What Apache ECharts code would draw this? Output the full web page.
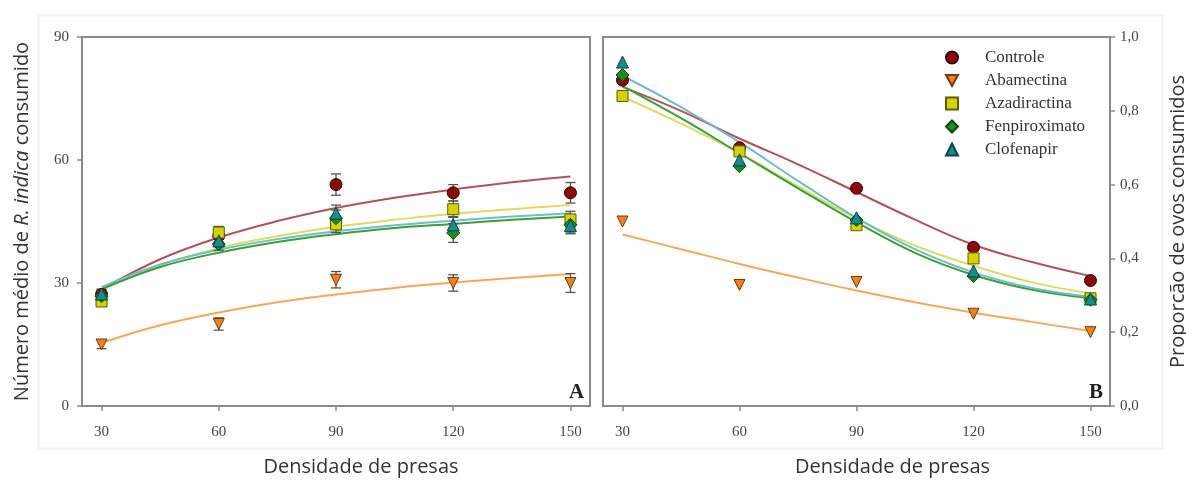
<!DOCTYPE html>
<html>
<head>
<meta charset="utf-8">
<script src="https://cdn.jsdelivr.net/npm/echarts@6/dist/echarts.min.js"></script>
<style>
html,body{margin:0;padding:0;background:#fff;}
#chart{width:1186px;height:481px;}
</style>
</head>
<body>
<div id="chart"></div>
<script>
// ---------- data ----------
const names = ['Controle', 'Abamectina', 'Azadiractina', 'Fenpiroximato', 'Clofenapir'];
const xDens = [30, 60, 90, 120, 150];
const xTicks = [30, 60, 90, 120, 150];
const curveX = [30, 45, 60, 75, 90, 105, 120, 135, 150];

// Panel A: mean number consumed (points) and standard errors
const aControle      = [27.2, 41.5, 54.0, 52.0, 52.0];
const aAbamectina    = [15.0, 20.0, 30.8, 30.0, 30.0];
const aAzadiractina  = [25.5, 42.3, 44.3, 48.0, 45.5];
const aFenpiroximato = [26.8, 39.5, 45.8, 42.2, 44.2];
const aClofenapir    = [27.3, 40.3, 47.0, 44.2, 44.0];

const eControle      = [1.2, 1.5, 2.6, 2.0, 2.5];
const eAbamectina    = [1.0, 1.5, 2.0, 2.0, 2.3];
const eAzadiractina  = [1.2, 1.5, 2.0, 2.0, 2.0];
const eFenpiroximato = [1.2, 1.5, 2.0, 2.3, 2.0];
const eClofenapir    = [1.2, 1.5, 2.0, 2.0, 2.0];

// Panel A: fitted curves read at curveX
const aCurveControle      = [28.5, 35.8, 41.1, 45.1, 48.3, 50.8, 52.8, 54.6, 56.0];
const aCurveAbamectina    = [15.4, 19.7, 22.8, 25.3, 27.2, 28.8, 30.1, 31.2, 32.2];
const aCurveAzadiractina  = [28.3, 34.3, 38.5, 41.4, 43.7, 45.4, 46.9, 48.0, 49.0];
const aCurveFenpiroximato = [28.5, 33.9, 37.4, 40.0, 41.9, 43.4, 44.4, 45.4, 46.2];
const aCurveClofenapir    = [29.0, 34.5, 38.1, 40.7, 42.6, 44.1, 45.2, 46.2, 47.0];

// Panel B: proportion of eggs consumed
const bControle      = [0.883, 0.700, 0.590, 0.430, 0.340];
const bAbamectina    = [0.500, 0.328, 0.336, 0.250, 0.200];
const bAzadiractina  = [0.840, 0.690, 0.490, 0.400, 0.292];
const bFenpiroximato = [0.897, 0.650, 0.504, 0.352, 0.288];
const bClofenapir    = [0.932, 0.667, 0.510, 0.366, 0.290];

const bCurveControle      = [0.865, 0.800, 0.725, 0.655, 0.580, 0.505, 0.437, 0.390, 0.352];
const bCurveAbamectina    = [0.465, 0.425, 0.385, 0.348, 0.313, 0.281, 0.253, 0.228, 0.203];
const bCurveAzadiractina  = [0.838, 0.765, 0.685, 0.595, 0.508, 0.435, 0.380, 0.335, 0.305];
const bCurveFenpiroximato = [0.867, 0.780, 0.685, 0.590, 0.498, 0.415, 0.355, 0.315, 0.292];
const bCurveClofenapir    = [0.895, 0.810, 0.715, 0.610, 0.510, 0.425, 0.362, 0.320, 0.296];

// ---------- styles ----------
const markerFill   = ['#8b0a0a', '#f08020', '#d6d200', '#1e8c1e', '#1a8c8c'];
const markerBorder = ['#3a0000', '#6e3a10', '#5e5c00', '#0a440a', '#0a4444'];
const lineColor    = ['#b0525c', '#f5a75a', '#dcdc62', '#3a9e3a', '#70bccc'];
const symbols = ['circle', 'path://M0,0 L10,0 L5,9 Z', 'rect', 'diamond', 'triangle'];
const symSizes = [12, 11, 11, 13, 12];

const pointsA = [aControle, aAbamectina, aAzadiractina, aFenpiroximato, aClofenapir];
const errA = [eControle, eAbamectina, eAzadiractina, eFenpiroximato, eClofenapir];
const curvesA = [aCurveControle, aCurveAbamectina, aCurveAzadiractina, aCurveFenpiroximato, aCurveClofenapir];
const pointsB = [bControle, bAbamectina, bAzadiractina, bFenpiroximato, bClofenapir];
const curvesB = [bCurveControle, bCurveAbamectina, bCurveAzadiractina, bCurveFenpiroximato, bCurveClofenapir];

const frameColor = '#8a8a8a';
const tickFont = {fontFamily: 'Liberation Serif', fontSize: 15, color: '#444'};
const titleFont = {fontFamily: 'Open Sans', fontSize: 20, color: '#333'};

function zip(xs, ys) { return xs.map((x, i) => [x, ys[i]]); }

const series = [];
[0, 1].forEach(function (g) {
  const pts = g === 0 ? pointsA : pointsB;
  const crv = g === 0 ? curvesA : curvesB;
  names.forEach(function (n, i) {
    series.push({
      name: n + ' ajuste' + g, type: 'line', xAxisIndex: g, yAxisIndex: g,
      data: zip(curveX, crv[i]), smooth: 0.4, showSymbol: false, symbol: 'none',
      lineStyle: {color: lineColor[i], width: 2}, z: 2, silent: true
    });
  });
  if (g === 0) {
    names.forEach(function (n, i) {
      series.push({
        name: n + ' erro', type: 'custom', xAxisIndex: 0, yAxisIndex: 0, z: 3, silent: true,
        data: xDens.map((x, k) => [x, pts[i][k] - errA[i][k], pts[i][k] + errA[i][k]]),
        renderItem: function (params, api) {
          const x = api.value(0);
          const p1 = api.coord([x, api.value(1)]);
          const p2 = api.coord([x, api.value(2)]);
          const w = 5;
          const st = {stroke: '#555', lineWidth: 1.3};
          return {type: 'group', children: [
            {type: 'line', shape: {x1: p1[0], y1: p1[1], x2: p2[0], y2: p2[1]}, style: st},
            {type: 'line', shape: {x1: p1[0] - w, y1: p1[1], x2: p1[0] + w, y2: p1[1]}, style: st},
            {type: 'line', shape: {x1: p2[0] - w, y1: p2[1], x2: p2[0] + w, y2: p2[1]}, style: st}
          ]};
        }
      });
    });
  }
  names.forEach(function (n, i) {
    series.push({
      name: n, type: 'scatter', xAxisIndex: g, yAxisIndex: g,
      data: zip(xDens, pts[i]), symbol: symbols[i], symbolSize: symSizes[i],
      itemStyle: {color: markerFill[i], borderColor: markerBorder[i], borderWidth: 1, opacity: 1}, z: 4
    });
  });
});

function xAxisCfg(g, padLeft) {
  return {
    gridIndex: g, type: 'value', min: 25, max: 155,
    axisLine: {show: true, onZero: false, lineStyle: {color: frameColor, width: 2}},
    axisTick: {show: true, customValues: xTicks, length: 5, lineStyle: {color: frameColor, width: 1.5}},
    axisLabel: Object.assign({customValues: xTicks, margin: 19}, tickFont),
    splitLine: {show: false},
    name: 'Densidade de presas', nameLocation: 'middle', nameGap: 51,
    nameTextStyle: Object.assign({padding: [0, 0, 0, padLeft]}, titleFont)
  };
}

const option = {
  animation: false,
  backgroundColor: '#fff',
  grid: [
    {left: 82, top: 37, width: 508, height: 369, show: true, borderColor: frameColor, borderWidth: 2,
     backgroundColor: 'transparent', containLabel: false, outerBoundsMode: 'none'},
    {left: 603, top: 37, width: 507, height: 369, show: true, borderColor: frameColor, borderWidth: 2,
     backgroundColor: 'transparent', containLabel: false, outerBoundsMode: 'none'}
  ],
  xAxis: [xAxisCfg(0, 50), xAxisCfg(1, 72)],
  yAxis: [
    {
      gridIndex: 0, type: 'value', min: 0, max: 90, interval: 30,
      axisLine: {show: true, lineStyle: {color: frameColor, width: 2}},
      axisTick: {show: true, length: 5, lineStyle: {color: frameColor, width: 1.5}},
      axisLabel: Object.assign({margin: 13}, tickFont),
      splitLine: {show: false},
      name: 'Número médio de {i|R. indica} consumido', nameLocation: 'middle', nameGap: 50,
      nameTextStyle: Object.assign({rich: {i: {fontFamily: 'Open Sans', fontSize: 20, fontStyle: 'italic', color: '#333'}}}, titleFont)
    },
    {
      gridIndex: 1, type: 'value', min: 0, max: 1, interval: 0.2, position: 'right',
      axisLine: {show: true, lineStyle: {color: frameColor, width: 2}},
      axisTick: {show: true, length: 5, lineStyle: {color: frameColor, width: 1.5}},
      axisLabel: Object.assign({margin: 10, formatter: v => v.toFixed(1).replace('.', ',')}, tickFont),
      splitLine: {show: false},
      name: 'Proporcão de ovos consumidos', nameLocation: 'middle', nameGap: 58, nameRotate: 90,
      nameTextStyle: titleFont
    }
  ],
  legend: {
    data: names, orient: 'vertical', left: 940, top: 44,
    itemWidth: 12, itemHeight: 12, itemGap: 6, selectedMode: false,
    textStyle: {fontFamily: 'Liberation Serif', fontSize: 17, color: '#333', padding: [0, 0, 0, 22]}
  },
  graphic: [
    {type: 'rect', left: 36, top: 13, z: -1, silent: true,
     shape: {width: 1124, height: 433}, style: {fill: 'none', stroke: '#f0f0f0', lineWidth: 2}},
    {type: 'text', left: 569, top: 382, style: {text: 'A', font: 'bold 21px "Liberation Serif"', fill: '#222'}},
    {type: 'text', left: 1089, top: 382, style: {text: 'B', font: 'bold 21px "Liberation Serif"', fill: '#222'}}
  ],
  series: series
};

const chart = echarts.init(document.getElementById('chart'), null, {renderer: 'canvas'});
chart.setOption(option);
</script>
</body>
</html>
